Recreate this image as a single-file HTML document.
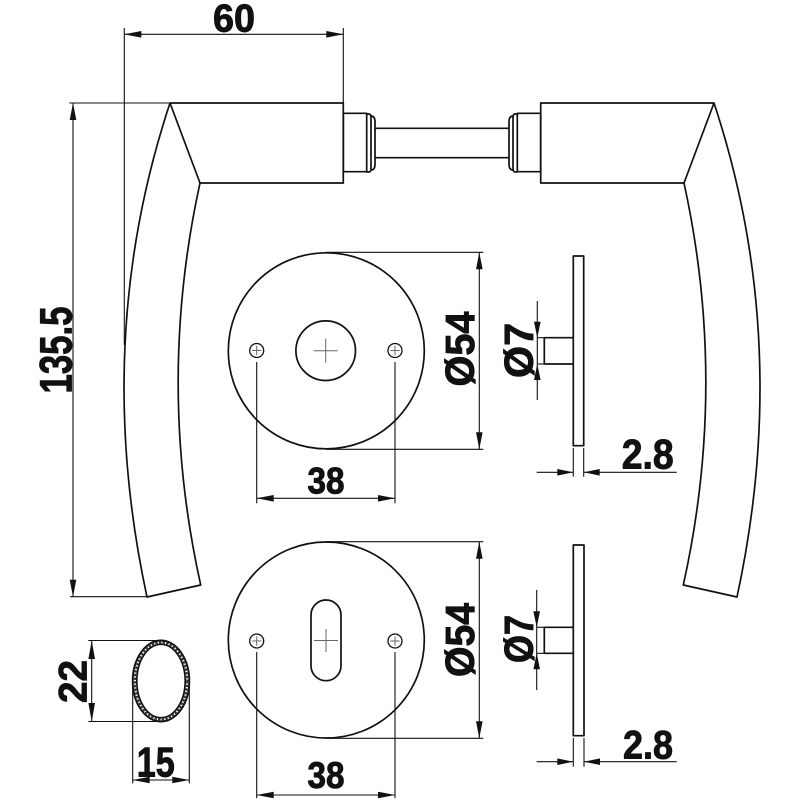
<!DOCTYPE html>
<html><head><meta charset="utf-8"><style>
html,body{margin:0;padding:0;background:#fff;}
svg{display:block;}
text{font-family:"Liberation Sans",sans-serif;font-weight:bold;fill:#111;stroke:#111;stroke-width:0.9;}
</style></head><body>
<svg width="800" height="800" viewBox="0 0 800 800" xmlns="http://www.w3.org/2000/svg">
<rect width="800" height="800" fill="#fff"/>
<g fill="none" stroke="#111" stroke-width="1.7" stroke-linejoin="round">
  <!-- left handle -->
  <path d="M170,103 L343.3,103 L343.3,183 L200,183 Z"/>
  <path d="M170,103 Q91.5,340 147,597 L200.7,585 Q156,384 200,183"/>
  <!-- right handle -->
  <path d="M714,103 L540.7,103 L540.7,183 L684,183 Z"/>
  <path d="M714,103 Q792.5,340 737,597 L683.3,585 Q728,384 684,183"/>
  <!-- collars -->
  <rect x="343.3" y="113.3" width="23.4" height="58.4"/>
  <rect x="517.3" y="113.3" width="23.4" height="58.4"/>
  <path d="M366.7,114 L369,114 Q371,114 371,118 L371,168 Q371,172 369,172 L366.7,172"/>
  <path d="M371,116 Q375,116 375,122 L375,164 Q375,170 371,170"/>
  <path d="M517.3,114 L515,114 Q513,114 513,118 L513,168 Q513,172 515,172 L517.3,172"/>
  <path d="M513,116 Q509,116 509,122 L509,164 Q509,170 513,170"/>
  <!-- shaft -->
  <line x1="375" y1="128.3" x2="509" y2="128.3"/>
  <line x1="375" y1="157.7" x2="509" y2="157.7"/>
  <!-- rosettes -->
  <circle cx="326.3" cy="350.8" r="98"/>
  <circle cx="325.7" cy="350.7" r="29.8"/>
  <circle cx="326.3" cy="640" r="98"/>
  <rect x="311" y="600" width="30" height="80.7" rx="15" ry="15"/>
  <g stroke-width="1.3">
    <circle cx="256.7" cy="350.5" r="7"/>
    <circle cx="395" cy="350.5" r="7"/>
    <circle cx="256.7" cy="641" r="7"/>
    <circle cx="395" cy="641" r="7"/>
  </g>
  <!-- side plates -->
  <rect x="573.3" y="256" width="10.4" height="189.7"/>
  <path d="M573.3,337.7 L544.3,337.7 L544.3,364 L573.3,364"/>
  <rect x="573.3" y="545" width="10.7" height="190.7"/>
  <path d="M573.3,627.3 L544.3,627.3 L544.3,653.3 L573.3,653.3"/>
  <!-- oval section -->
  <ellipse cx="161" cy="681" rx="28.3" ry="40.5" stroke-width="1.9"/>
  <ellipse cx="161" cy="681" rx="24.2" ry="36.7" stroke-width="1.7"/>
  <ellipse cx="161" cy="681" rx="26.2" ry="38.6" stroke-width="2.2" stroke="#333" stroke-dasharray="2.5 1.2"/>
</g>
<!-- crosshairs -->
<g stroke="#666" stroke-width="1">
  <line x1="313.7" y1="350.7" x2="337.7" y2="350.7"/>
  <line x1="325.7" y1="338.7" x2="325.7" y2="362.7"/>
  <line x1="314" y1="640.5" x2="338" y2="640.5"/>
  <line x1="326" y1="629" x2="326" y2="652"/>
  <line x1="252" y1="350.5" x2="261.4" y2="350.5"/><line x1="256.7" y1="345.8" x2="256.7" y2="355.2"/>
  <line x1="390.3" y1="350.5" x2="399.7" y2="350.5"/><line x1="395" y1="345.8" x2="395" y2="355.2"/>
  <line x1="252" y1="641" x2="261.4" y2="641"/><line x1="256.7" y1="636.3" x2="256.7" y2="645.7"/>
  <line x1="390.3" y1="641" x2="399.7" y2="641"/><line x1="395" y1="636.3" x2="395" y2="645.7"/>
</g>
<!-- dimension lines -->
<g fill="none" stroke="#111" stroke-width="1.1">
  <!-- 60 -->
  <line x1="124.3" y1="34.3" x2="343.3" y2="34.3"/>
  <line x1="124.3" y1="28" x2="124.3" y2="345"/>
  <line x1="343.3" y1="28" x2="343.3" y2="103"/>
  <!-- 135.5 -->
  <line x1="69.3" y1="103" x2="170" y2="103"/>
  <line x1="70" y1="596.7" x2="147" y2="596.7"/>
  <line x1="73" y1="103" x2="73" y2="596.7"/>
  <!-- top rosette -->
  <line x1="326" y1="252.3" x2="483.3" y2="252.3"/>
  <line x1="326" y1="449.3" x2="483.3" y2="449.3"/>
  <line x1="479.3" y1="252.3" x2="479.3" y2="449.3"/>
  <line x1="256.7" y1="362" x2="256.7" y2="503.3"/>
  <line x1="395" y1="362" x2="395" y2="503.3"/>
  <line x1="256.7" y1="498.3" x2="395" y2="498.3"/>
  <!-- bottom rosette -->
  <line x1="326" y1="541.7" x2="483.3" y2="541.7"/>
  <line x1="326" y1="738.3" x2="483.3" y2="738.3"/>
  <line x1="479.3" y1="541.7" x2="479.3" y2="738.3"/>
  <line x1="256.7" y1="652" x2="256.7" y2="798.3"/>
  <line x1="395" y1="652" x2="395" y2="798.3"/>
  <line x1="256.7" y1="795" x2="395" y2="795"/>
  <!-- Ø7 top -->
  <line x1="537.3" y1="301" x2="537.3" y2="400"/>
  <line x1="537.3" y1="337.7" x2="544.3" y2="337.7"/>
  <line x1="537.3" y1="364" x2="544.3" y2="364"/>
  <!-- 2.8 top -->
  <line x1="573.3" y1="448" x2="573.3" y2="476.7"/>
  <line x1="583.7" y1="448" x2="583.7" y2="476.7"/>
  <line x1="536.7" y1="472.3" x2="573.3" y2="472.3"/>
  <line x1="583.7" y1="472.3" x2="676.7" y2="472.3"/>
  <!-- Ø7 bottom -->
  <line x1="536.7" y1="590" x2="536.7" y2="690"/>
  <line x1="536.7" y1="627.3" x2="544.3" y2="627.3"/>
  <line x1="536.7" y1="653.3" x2="544.3" y2="653.3"/>
  <!-- 2.8 bottom -->
  <line x1="573.3" y1="738" x2="573.3" y2="766.7"/>
  <line x1="584" y1="738" x2="584" y2="766.7"/>
  <line x1="536.7" y1="761.7" x2="573.3" y2="761.7"/>
  <line x1="584" y1="761.7" x2="676.7" y2="761.7"/>
  <!-- 22 -->
  <line x1="88.3" y1="640.5" x2="161" y2="640.5"/>
  <line x1="88.3" y1="721.5" x2="161" y2="721.5"/>
  <line x1="91.7" y1="640.5" x2="91.7" y2="721.5"/>
  <!-- 15 -->
  <line x1="132.7" y1="681" x2="132.7" y2="783.3"/>
  <line x1="189.3" y1="681" x2="189.3" y2="783.3"/>
  <line x1="132.7" y1="780" x2="189.3" y2="780"/>
</g>
<!-- arrowheads -->
<g fill="#111" stroke="none">
  <polygon points="124.3,34.3 141.3,31 141.3,37.6"/>
  <polygon points="343.3,34.3 326.3,31 326.3,37.6"/>
  <polygon points="73,103 69.7,120 76.3,120"/>
  <polygon points="73,596.7 69.7,579.7 76.3,579.7"/>
  <polygon points="479.3,252.3 476,269.3 482.6,269.3"/>
  <polygon points="479.3,449.3 476,432.3 482.6,432.3"/>
  <polygon points="479.3,541.7 476,558.7 482.6,558.7"/>
  <polygon points="479.3,738.3 476,721.3 482.6,721.3"/>
  <polygon points="256.7,498.3 273.7,495 273.7,501.6"/>
  <polygon points="395,498.3 378,495 378,501.6"/>
  <polygon points="256.7,795 273.7,791.7 273.7,798.3"/>
  <polygon points="395,795 378,791.7 378,798.3"/>
  <polygon points="537.3,337.7 534,321.7 540.6,321.7"/>
  <polygon points="537.3,364 534,380 540.6,380"/>
  <polygon points="536.7,627.3 533.4,611.3 540,611.3"/>
  <polygon points="536.7,653.3 533.4,669.3 540,669.3"/>
  <polygon points="573.3,472.3 557.3,469 557.3,475.6"/>
  <polygon points="583.7,472.3 599.7,469 599.7,475.6"/>
  <polygon points="573.3,761.7 557.3,758.4 557.3,765"/>
  <polygon points="584,761.7 600,758.4 600,765"/>
  <polygon points="91.7,640.5 88.4,659 95,659"/>
  <polygon points="91.7,721.5 88.4,703 95,703"/>
  <polygon points="132.7,780 149.7,776.7 149.7,783.3"/>
  <polygon points="189.3,780 172.3,776.7 172.3,783.3"/>
</g>
<!-- labels -->
<text x="234" y="31.7" font-size="39" text-anchor="middle" textLength="42" lengthAdjust="spacingAndGlyphs">60</text>
<text x="326" y="493.3" font-size="37" text-anchor="middle" textLength="37" lengthAdjust="spacingAndGlyphs">38</text>
<text x="326" y="788" font-size="37" text-anchor="middle" textLength="37" lengthAdjust="spacingAndGlyphs">38</text>
<text x="621.7" y="468.3" font-size="42" textLength="52" lengthAdjust="spacingAndGlyphs">2.8</text>
<text x="623" y="758.3" font-size="40" textLength="50" lengthAdjust="spacingAndGlyphs">2.8</text>
<text x="136.7" y="776.7" font-size="42" textLength="38" lengthAdjust="spacingAndGlyphs">15</text>
<text transform="translate(71.7,350) rotate(-90)" x="0" y="0" font-size="45" text-anchor="middle" textLength="87" lengthAdjust="spacingAndGlyphs">135.5</text>
<text transform="translate(474,349) rotate(-90)" x="0" y="0" font-size="41" text-anchor="middle" textLength="75" lengthAdjust="spacingAndGlyphs">Ø54</text>
<text transform="translate(474,640) rotate(-90)" x="0" y="0" font-size="41" text-anchor="middle" textLength="74" lengthAdjust="spacingAndGlyphs">Ø54</text>
<text transform="translate(533,350.5) rotate(-90)" x="0" y="0" font-size="41" text-anchor="middle" textLength="55" lengthAdjust="spacingAndGlyphs">Ø7</text>
<text transform="translate(533,639) rotate(-90)" x="0" y="0" font-size="41" text-anchor="middle" textLength="48" lengthAdjust="spacingAndGlyphs">Ø7</text>
<text transform="translate(86.7,681.5) rotate(-90)" x="0" y="0" font-size="40" text-anchor="middle" textLength="43" lengthAdjust="spacingAndGlyphs">22</text>
</svg>
</body></html>
